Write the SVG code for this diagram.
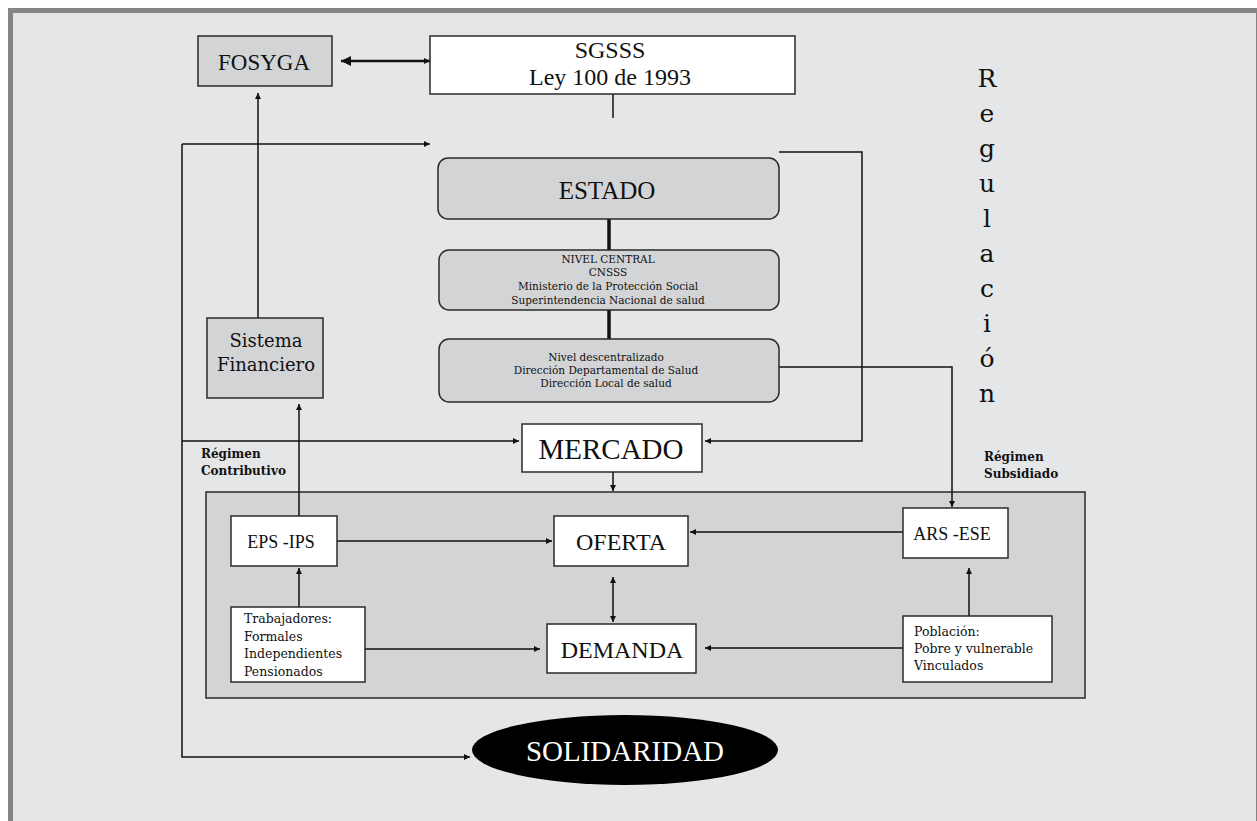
<svg xmlns="http://www.w3.org/2000/svg" width="1257" height="821" viewBox="0 0 1257 821">
<style>
.box{stroke:#2a2a2a;stroke-width:1.5}
.w{fill:#ffffff}
.g{fill:#d3d4d6}
.big{font-family:"Liberation Serif","Times New Roman",serif;fill:#111;text-anchor:middle}
.sm{font-family:"DejaVu Serif","Liberation Serif",serif;fill:#111}
.c{text-anchor:middle}
.con{fill:none;stroke:#111;stroke-width:1.5}
.thick{stroke-width:3.5}
.dbl{stroke-width:2.5}
</style>
<defs>
<marker id="ah" viewBox="0 0 10 10" refX="10" refY="5" markerWidth="7" markerHeight="6" markerUnits="userSpaceOnUse" orient="auto-start-reverse"><path d="M0,0 L10,5 L0,10 z" fill="#111"/></marker>
<marker id="ahb" viewBox="0 0 10 10" refX="10" refY="5" markerWidth="11" markerHeight="10" markerUnits="userSpaceOnUse" orient="auto-start-reverse"><path d="M0,0 L10,5 L0,10 z" fill="#111"/></marker>
</defs>
<rect x="0" y="0" width="1257" height="821" fill="#ffffff"/>
<rect x="8" y="8" width="1249" height="813" fill="#858585"/>
<rect x="13" y="13" width="1243" height="808" fill="#e5e6e8"/>

<g id="sistema-salud">
<rect class="box" fill="#d3d4d6" x="206" y="492" width="879" height="206"/>
</g>

<g id="connectors">
<path class="con dbl" d="M341,61 H430" marker-start="url(#ahb)" marker-end="url(#ah)"/>
<path class="con" d="M613,94 V118"/>
<path class="con" d="M182,144 H430" marker-end="url(#ah)"/>
<path class="con" d="M182,144 V757 H470" marker-end="url(#ah)"/>
<path class="con" d="M182,441 H519" marker-end="url(#ah)"/>
<path class="con" d="M258,318 V93" marker-end="url(#ah)"/>
<path class="con" d="M299,516 V404" marker-end="url(#ah)"/>
<path class="con" d="M779,152 H862 V441 H705" marker-end="url(#ah)"/>
<path class="con thick" d="M609,219 V250"/>
<path class="con thick" d="M609,310 V339"/>
<path class="con" d="M779,367 H952 V507" marker-end="url(#ah)"/>
<path class="con" d="M613,472 V491" marker-end="url(#ah)"/>
<path class="con" d="M337,541 H552" marker-end="url(#ah)"/>
<path class="con" d="M903,532 H690" marker-end="url(#ah)"/>
<path class="con" d="M613,577 V622" marker-start="url(#ah)" marker-end="url(#ah)"/>
<path class="con" d="M365,649 H540" marker-end="url(#ah)"/>
<path class="con" d="M299,607 V568" marker-end="url(#ah)"/>
<path class="con" d="M903,648 H705" marker-end="url(#ah)"/>
<path class="con" d="M969,616 V568" marker-end="url(#ah)"/>
</g>

<g id="fosyga">
<rect class="box g" x="198" y="36" width="134" height="50"/>
<text class="big" x="264" y="70" font-size="23">FOSYGA</text>
</g>
<g id="sgsss">
<rect class="box w" x="430" y="36" width="365" height="58"/>
<text class="big" x="610" y="58" font-size="24">SGSSS</text>
<text class="big" x="610" y="85" font-size="24">Ley 100 de 1993</text>
</g>
<g id="estado">
<rect class="box g" x="438" y="158" width="341" height="61" rx="10"/>
<text class="big" x="607" y="199" font-size="25">ESTADO</text>
</g>
<g id="nivel-central">
<rect class="box g" x="439" y="250" width="340" height="60" rx="10"/>
<text class="sm c" font-size="10.5"><tspan x="608" y="263">NIVEL CENTRAL</tspan><tspan x="608" y="276">CNSSS</tspan><tspan x="608" y="290">Ministerio de la Protección Social</tspan><tspan x="608" y="304">Superintendencia Nacional de salud</tspan></text>
</g>
<g id="nivel-descentralizado">
<rect class="box g" x="439" y="339" width="340" height="63" rx="10"/>
<text class="sm c" font-size="10.5"><tspan x="606" y="361">Nivel descentralizado</tspan><tspan x="606" y="374">Dirección Departamental de Salud</tspan><tspan x="606" y="387">Dirección Local de salud</tspan></text>
</g>
<g id="sistema-financiero">
<rect class="box g" x="207" y="318" width="116" height="80"/>
<text class="sm c" font-size="18"><tspan x="266" y="347">Sistema</tspan><tspan x="266" y="371">Financiero</tspan></text>
</g>
<g id="mercado">
<rect class="box w" x="522" y="424" width="180" height="48"/>
<text class="big" x="611" y="459" font-size="29">MERCADO</text>
</g>
<g id="regimen-contributivo">
<text class="sm" font-size="12" font-weight="bold"><tspan x="201" y="458">Régimen</tspan><tspan x="201" y="475">Contributivo</tspan></text>
</g>
<g id="regimen-subsidiado">
<text class="sm" font-size="12" font-weight="bold"><tspan x="984" y="461">Régimen</tspan><tspan x="984" y="478">Subsidiado</tspan></text>
</g>
<g id="regulacion">
<text class="sm c" font-size="25"><tspan x="987" y="87">R</tspan><tspan x="987" y="122">e</tspan><tspan x="987" y="157">g</tspan><tspan x="987" y="192">u</tspan><tspan x="987" y="227">l</tspan><tspan x="987" y="262">a</tspan><tspan x="987" y="297">c</tspan><tspan x="987" y="332">i</tspan><tspan x="987" y="367">ó</tspan><tspan x="987" y="402">n</tspan></text>
</g>
<g id="eps-ips">
<rect class="box w" x="231" y="516" width="106" height="50"/>
<text class="big" x="281" y="548" font-size="18">EPS -IPS</text>
</g>
<g id="oferta">
<rect class="box w" x="554" y="516" width="134" height="50"/>
<text class="big" x="621" y="550" font-size="24">OFERTA</text>
</g>
<g id="ars-ese">
<rect class="box w" x="903" y="508" width="105" height="50"/>
<text class="big" x="952" y="540" font-size="18">ARS -ESE</text>
</g>
<g id="demanda">
<rect class="box w" x="547" y="624" width="149" height="49"/>
<text class="big" x="622" y="658" font-size="24">DEMANDA</text>
</g>
<g id="trabajadores">
<rect class="box w" x="231" y="607" width="134" height="75"/>
<text class="sm" font-size="12.5"><tspan x="244" y="623">Trabajadores:</tspan><tspan x="244" y="641">Formales</tspan><tspan x="244" y="658">Independientes</tspan><tspan x="244" y="676">Pensionados</tspan></text>
</g>
<g id="poblacion">
<rect class="box w" x="903" y="616" width="149" height="66"/>
<text class="sm" font-size="12.5"><tspan x="914" y="636">Población:</tspan><tspan x="914" y="653">Pobre y vulnerable</tspan><tspan x="914" y="670">Vinculados</tspan></text>
</g>
<g id="solidaridad">
<ellipse cx="625" cy="750" rx="153" ry="35" fill="#000"/>
<text class="big" x="625" y="761" font-size="29" style="fill:#fff">SOLIDARIDAD</text>
</g>
</svg>
